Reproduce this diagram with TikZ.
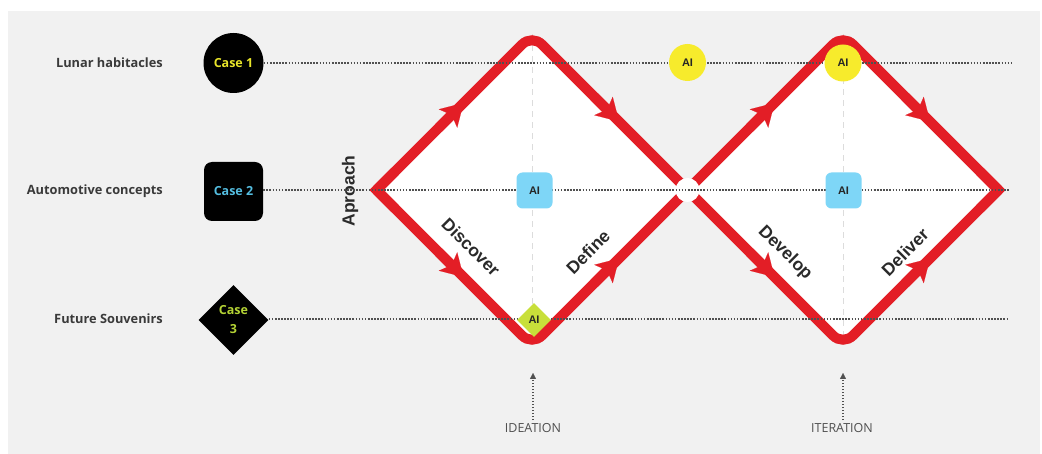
\documentclass[tikz,border=0pt]{standalone}
\usepackage{fontspec}
\setmainfont{Open Sans}
\newfontfamily\phasefont{Liberation Sans}
\usetikzlibrary{arrows.meta, shapes.geometric, calc}

\definecolor{panel}{HTML}{F1F1F1}
\definecolor{dred}{HTML}{E31E26}
\definecolor{ink}{HTML}{3A3A3A}
\definecolor{phaseink}{HTML}{2A2A2A}
\definecolor{dotgray}{HTML}{505050}
\definecolor{guide}{HTML}{DCDCDC}
\definecolor{aiyellow}{HTML}{F7EB2C}
\definecolor{aiblue}{HTML}{7ED6F7}
\definecolor{aigreen}{HTML}{C8DF3A}
\definecolor{caseyellow}{HTML}{E8E42A}
\definecolor{caseblue}{HTML}{54BDE0}
\definecolor{casegreen}{HTML}{B5D335}

\tikzset{
  rowlabel/.style={anchor=east, inner sep=0pt, text=ink,
    font=\fontsize{12.8}{15}\selectfont\bfseries},
  casebase/.style={fill=black, inner sep=0pt, align=center,
    font=\fontsize{12.5}{19}\selectfont\bfseries},
  rowline/.style={draw=dotgray, line width=1.7pt, dash pattern=on 1.6pt off 1.5pt},
  redline/.style={draw=dred, line width=10pt},
  redtip/.style={redline, -{Stealth[length=22pt, width=26pt, inset=5pt, line width=0.1pt]}},
  guideline/.style={draw=guide, line width=1pt, dash pattern=on 6pt off 5pt},
  phase/.style={inner sep=0pt, text=phaseink,
    font=\fontsize{17.5}{20}\selectfont\phasefont\bfseries},
  aibase/.style={inner sep=0pt, text=black!85,
    font=\fontsize{11}{12}\selectfont\phasefont\bfseries},
  aicircle/.style={aibase, circle, fill=aiyellow, minimum size=37pt},
  aisquare/.style={aibase, rectangle, rounded corners=6pt, fill=aiblue, minimum size=36pt},
  aidiamond/.style={aibase, diamond, fill=aigreen, minimum width=34pt, minimum height=34pt},
  botlabel/.style={inner sep=3pt, text=dotgray, font=\fontsize{12.5}{14}\selectfont},
  botarrow/.style={draw=dotgray, line width=1.4pt, dash pattern=on 1.5pt off 1.5pt,
    -{Triangle[length=6pt, width=6pt, line width=0.1pt]}},
}

\begin{document}
\begin{tikzpicture}[x=1pt, y=-1pt]
\useasboundingbox (0,0) rectangle (1042,454);
\fill[white] (0,0) rectangle (1042,454);
\fill[panel] (8,11) rectangle (1040,454);

% row labels
\node[rowlabel] (l1) at (163,63) {Lunar habitacles};
\node[rowlabel] (l2) at (163,191) {Automotive concepts};
\node[rowlabel] (l3) at (163,319) {Future Souvenirs};

% case markers
\node[casebase, circle, minimum size=60pt, text=caseyellow] (c1) at (233.5,63) {Case 1};
\node[casebase, rectangle, rounded corners=8pt, minimum size=59pt, text=caseblue] (c2) at (233.5,191.5) {Case 2};
\node[casebase, diamond, minimum width=70pt, minimum height=70pt, text=casegreen] (c3) at (233.5,320) {Case\\3};

% double diamond corners
\coordinate (dl) at (376.5,190);
\coordinate (dt) at (532,34.5);
\coordinate (dm) at (687.5,190);
\coordinate (db) at (532,345.5);
\coordinate (et) at (843,34.5);
\coordinate (er) at (998.5,190);
\coordinate (eb) at (843,345.5);

% white interiors and centre guides
\fill[white, rounded corners=14pt] (dl) -- (dt) -- (dm) -- (db) -- cycle;
\fill[white, rounded corners=14pt] (dm) -- (et) -- (er) -- (eb) -- cycle;
\draw[guideline] (dt) -- (db);
\draw[guideline] (et) -- (eb);

% red outlines
\draw[redline, rounded corners=14pt] (dl) -- (dt) -- (dm);
\draw[redline, rounded corners=14pt] (dl) -- (db) -- (dm);
\draw[redline, rounded corners=14pt] (dm) -- (et) -- (er);
\draw[redline, rounded corners=14pt] (dm) -- (eb) -- (er);
\draw[redline, line join=miter] ($(dl)!0.12!(dt)$) -- (dl) -- ($(dl)!0.12!(db)$);
\draw[redline, line join=miter] ($(er)!0.12!(et)$) -- (er) -- ($(er)!0.12!(eb)$);

% direction arrows on every edge
\foreach \a/\b in {dl/dt, dt/dm, dl/db, db/dm, dm/et, et/er, dm/eb, eb/er}
  \draw[redtip] ($(\a)!0.40!(\b)$) -- ($(\a)!0.56!(\b)$);

% junction between the two diamonds
\node[circle, fill=white, minimum size=24pt, inner sep=0pt] (jn) at (dm) {};

% phase labels
\node[phase, rotate=90] (approach) at (350,191) {Aproach};
\node[phase, rotate=-45] (discover) at (471,247) {Discover};
\node[phase, rotate=45] (define) at (588,252) {Define};
\node[phase, rotate=-45] (develop) at (785,253) {Develop};
\node[phase, rotate=45] (deliver) at (905,252) {Deliver};

% dotted case rows
\coordinate (e1) at (1012,63);
\coordinate (e2) at (1010,190);
\coordinate (e3) at (1008,319);
\draw[rowline] (c1.east) -- (e1);
\draw[rowline] (c2.east |- e2) -- (e2);
\draw[rowline] (c3.east |- e3) -- (e3);

% AI touch points
\node[aicircle] (ai1) at (687.5,62.5) {AI};
\node[aicircle] (ai2) at (843,63) {AI};
\node[aisquare] (ai3) at (534.5,190.5) {AI};
\node[aisquare] (ai4) at (843.5,190.5) {AI};
\node[aidiamond] (ai5) at (534,320) {AI};

% bottom markers
\node[botlabel] (ide) at (533,428) {IDEATION};
\node[botlabel] (ite) at (842,428) {ITERATION};
\coordinate (ideT) at (533,373);
\coordinate (iteT) at (843,373);
\draw[botarrow] (ide.north) -- (ideT);
\draw[botarrow] (ite.north -| iteT) -- (iteT);
\end{tikzpicture}
\end{document}
